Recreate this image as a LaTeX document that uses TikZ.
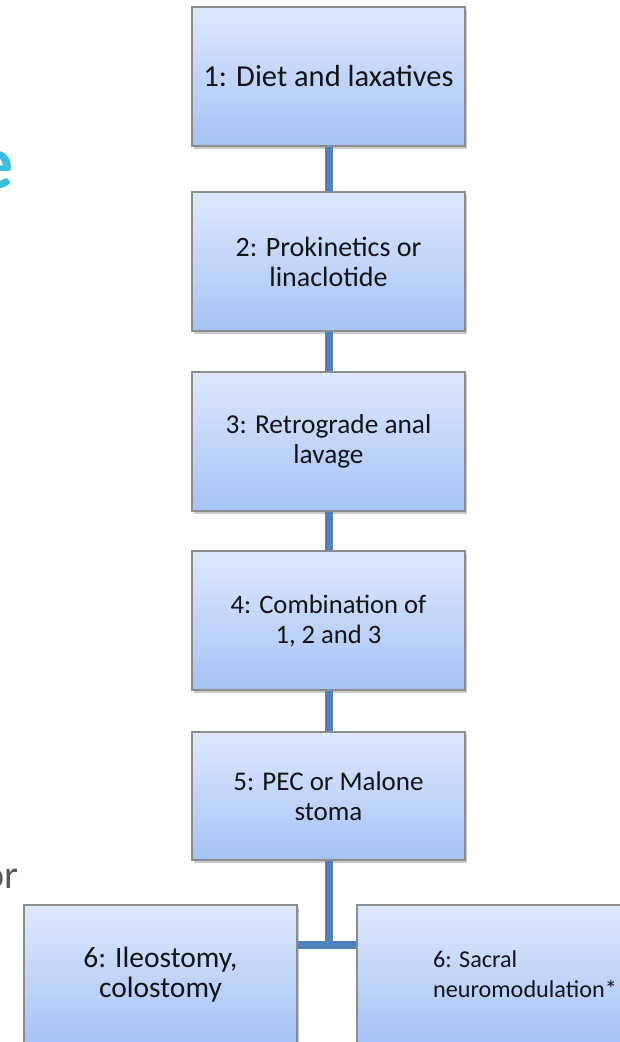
\documentclass[tikz,border=0pt]{standalone}
\usepackage{fontspec}
\setmainfont{Carlito}
\usetikzlibrary{shadows}
\definecolor{boxtop}{RGB}{222,232,251}
\definecolor{boxbot}{RGB}{165,195,247}
\definecolor{boxline}{RGB}{140,140,140}
\definecolor{connblue}{RGB}{79,129,189}
\definecolor{titlecyan}{RGB}{60,190,220}
\definecolor{graytext}{RGB}{89,89,89}
\definecolor{txt}{RGB}{20,20,20}
\tikzset{
  stagebox/.style={draw=boxline, line width=1.4pt, top color=boxtop, bottom color=boxbot,
    minimum width=273pt, minimum height=139pt, inner sep=0pt, align=center,
    font=\fontsize{#1}{30pt}\selectfont, text=txt,
    drop shadow={shadow xshift=2pt, shadow yshift=-2.5pt, opacity=0.35, fill=black!60}},
  stagebox/.default=27pt,
  conn/.style={draw=connblue, line width=8pt}
}
\begin{document}
\begin{tikzpicture}[x=1pt,y=-1pt]
\useasboundingbox (0,0) rectangle (620,1042);
\begin{scope}
\clip (0,0) rectangle (620,1042);
% partial slide texts at the left edge (cut off in the reference as well)
\node[anchor=base east, inner sep=0pt, text=titlecyan, font=\fontsize{76pt}{80pt}\selectfont\bfseries] (te) at (14,188) {e};
\node[anchor=base east, inner sep=0pt, text=graytext, font=\fontsize{40pt}{44pt}\selectfont] (tor) at (19,888) {or};
% boxes
\node[stagebox=30.5pt] (b1) at (328.5,76.5) {1: Diet and laxatives};
\node[stagebox=28pt] (b2) at (328.5,261.5) {2: Prokinetics or\\linaclotide};
\node[stagebox=27.3pt] (b3) at (328.5,441.5) {3: Retrograde anal\\lavage};
\node[stagebox=26.6pt] (b4) at (328.5,620.5) {4: Combination of\\1, 2 and 3};
\node[stagebox=27pt, minimum height=128pt] (b5) at (328.5,796) {5: PEC or Malone\\stoma};
\node[stagebox=29.5pt] (b6l) at (160.5,974.5) {6: Ileostomy,\\colostomy};
\node[stagebox=24.2pt, minimum width=336pt, align=left] (b6r) at (525,974.5) {6: Sacral\\neuromodulation*};
\coordinate (j) at (328.5,945);
% connectors
\draw[conn] (b1.south) -- (b2.north);
\draw[conn] (b2.south) -- (b3.north);
\draw[conn] (b3.south) -- (b4.north);
\draw[conn] (b4.south) -- (b5.north);
\draw[conn] (b5.south) -- (j);
\draw[conn] (b6l.east |- j) -- (b6r.west |- j);
\end{scope}
\end{tikzpicture}
\end{document}
